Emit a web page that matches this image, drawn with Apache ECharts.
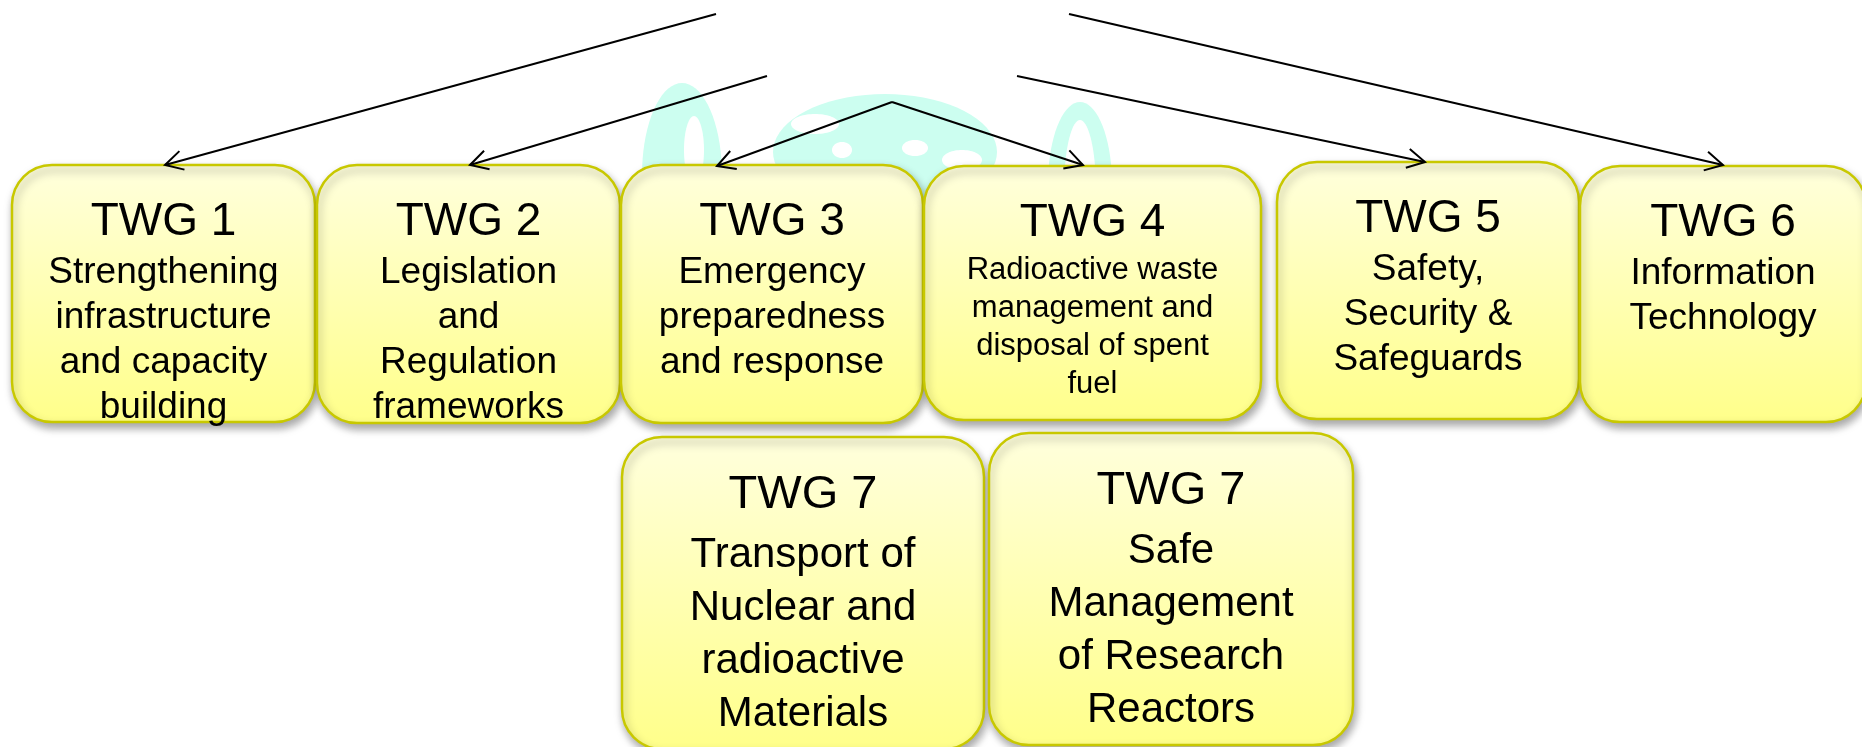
<!DOCTYPE html>
<html>
<head>
<meta charset="utf-8">
<title>TWG</title>
<script src="https://cdn.jsdelivr.net/npm/echarts@6/dist/echarts.min.js"></script>
<style>
    html, body { margin: 0; padding: 0; background: #fff; }
    #chart { width: 1862px; height: 747px; }
</style>
</head>
<body>
<div id="chart"></div>
<script>
// working groups
var groupNames = ['TWG 1', 'TWG 2', 'TWG 3', 'TWG 4', 'TWG 5', 'TWG 6', 'TWG 7', 'TWG 7'];
var groupTopics = [
    ['Strengthening', 'infrastructure', 'and capacity', 'building'],
    ['Legislation', 'and', 'Regulation', 'frameworks'],
    ['Emergency', 'preparedness', 'and response'],
    ['Radioactive waste', 'management and', 'disposal of spent', 'fuel'],
    ['Safety,', 'Security &', 'Safeguards'],
    ['Information', 'Technology'],
    ['Transport of', 'Nuclear and', 'radioactive', 'Materials'],
    ['Safe', 'Management', 'of Research', 'Reactors']
];
// box corners on the hidden axes [x0, y0, x1, y1]
var groupBoxes = [
    [12, 165, 315, 422],
    [317, 165, 620, 423],
    [621, 165, 923, 423],
    [924, 166, 1261, 420],
    [1277, 162, 1579, 419],
    [1580, 166, 1866, 422],
    [622, 437, 984, 749],
    [989, 433, 1353, 745]
];
// connector arrows (start -> tip)
var arrowFrom = [[716, 14], [767, 76], [892, 102], [892, 102], [1017, 76], [1069, 14]];
var arrowTo = [[165, 165], [470, 165], [717, 166], [1083, 165], [1425, 162], [1723, 165]];

// faint logo behind the boxes: [cx, cy, rx, ry]
var logoShapes = [
    [682, 175, 40, 92], [885, 152, 112, 58], [1080, 184, 32, 82],
    [694, 150, 10, 34], [815, 124, 24, 10], [842, 150, 10, 8],
    [915, 148, 13, 8], [962, 160, 20, 10], [1080, 190, 16, 70]
];
var logoFill = ['#CCFEF0', '#CCFEF0', '#CCFEF0', '#fff', '#fff', '#fff', '#fff', '#fff', '#fff'];

var FONT = '"Liberation Sans", Arial, sans-serif';
// text layout per box kind
var kinds = {
    top:    { title: 46, titleY: 57, body: 37, bodyY: 108, lh: 45 },
    dense:  { title: 46, titleY: 57, body: 31, bodyY: 104, lh: 38.3 },
    bottom: { title: 47, titleY: 58, body: 42, bodyY: 118, lh: 53 }
};
var kindOf = ['top', 'top', 'top', 'dense', 'top', 'top', 'bottom', 'bottom'];

var myChart = echarts.init(document.getElementById('chart'));

myChart.setOption({
    animation: false,
    grid: { left: 0, right: 0, top: 0, bottom: 0 },
    xAxis: { type: 'value', min: 0, max: 1862, show: false },
    yAxis: { type: 'value', min: 0, max: 747, inverse: true, show: false },
    series: [
        {
            // watermark
            type: 'custom',
            z: 1,
            silent: true,
            data: logoShapes.map(function (s, i) { return s.concat([i]); }),
            renderItem: function (params, api) {
                var c = api.coord([api.value(0), api.value(1)]);
                var rx = api.value(2), ry = api.value(3);
                var pts = [];
                for (var k = 0; k < 72; k++) {
                    var a = k / 72 * Math.PI * 2;
                    pts.push([c[0] + rx * Math.cos(a), c[1] + ry * Math.sin(a)]);
                }
                return {
                    type: 'polygon',
                    shape: { points: pts },
                    style: { fill: logoFill[api.value(4)] }
                };
            }
        },
        {
            type: 'custom',
            z: 2,
            data: groupBoxes.map(function (b, i) { return [b[0], b[1], b[2], b[3], i]; }),
            renderItem: function (params, api) {
                var i = api.value(4);
                var p0 = api.coord([api.value(0), api.value(1)]);
                var p1 = api.coord([api.value(2), api.value(3)]);
                var w = p1[0] - p0[0], h = p1[1] - p0[1];
                var cx = p0[0] + w / 2;
                var k = kinds[kindOf[i]];
                var children = [{
                    type: 'rect',
                    shape: { x: p0[0], y: p0[1], width: w, height: h, r: 40 },
                    style: {
                        fill: new echarts.graphic.LinearGradient(0, 0, 0, 1, [
                            { offset: 0, color: '#FFFFDD' },
                            { offset: 1, color: '#FFFF8A' }
                        ]),
                        stroke: '#C8C800',
                        lineWidth: 2.5,
                        shadowBlur: 8,
                        shadowOffsetX: 2,
                        shadowOffsetY: 5,
                        shadowColor: 'rgba(0,0,0,0.35)'
                    }
                }, {
                    type: 'text',
                    style: {
                        x: cx, y: p0[1] + k.titleY,
                        text: groupNames[i],
                        fill: '#000',
                        fontSize: k.title,
                        fontFamily: FONT,
                        align: 'center',
                        verticalAlign: 'middle'
                    }
                }];
                groupTopics[i].forEach(function (line, j) {
                    children.push({
                        type: 'text',
                        style: {
                            x: cx, y: p0[1] + k.bodyY + j * k.lh,
                            text: line,
                            fill: '#000',
                            fontSize: k.body,
                            fontFamily: FONT,
                            align: 'center',
                            verticalAlign: 'middle'
                        }
                    });
                });
                return { type: 'group', children: children };
            }
        },
        {
            type: 'custom',
            z: 3,
            silent: true,
            data: arrowFrom.map(function (f, i) { return [f[0], f[1], arrowTo[i][0], arrowTo[i][1]]; }),
            renderItem: function (params, api) {
                var a = api.coord([api.value(0), api.value(1)]);
                var b = api.coord([api.value(2), api.value(3)]);
                var ang = Math.atan2(a[1] - b[1], a[0] - b[0]);
                var L = 20, th = 0.5;
                var h1 = [b[0] + L * Math.cos(ang + th), b[1] + L * Math.sin(ang + th)];
                var h2 = [b[0] + L * Math.cos(ang - th), b[1] + L * Math.sin(ang - th)];
                var st = { stroke: '#000', lineWidth: 2, fill: null };
                return {
                    type: 'group',
                    children: [
                        { type: 'line', shape: { x1: a[0], y1: a[1], x2: b[0], y2: b[1] }, style: st },
                        { type: 'polyline', shape: { points: [h1, b, h2] }, style: st }
                    ]
                };
            }
        }
    ]
});
</script>
</body>
</html>
